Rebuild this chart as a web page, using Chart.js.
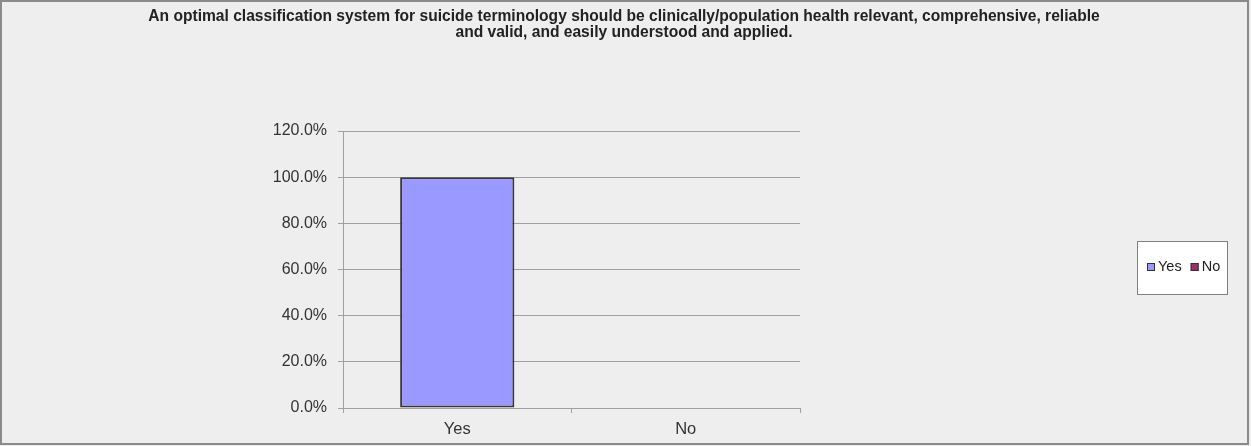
<!DOCTYPE html>
<html>
<head>
<meta charset="utf-8">
<script src="https://cdn.jsdelivr.net/npm/chart.js@4/dist/chart.umd.min.js"></script>
<style>
  html, body { margin: 0; padding: 0; background: #eeeeee; }
  #wrap { width: 1251px; height: 446px; position: relative; }
</style>
</head>
<body>
<div id="wrap"><canvas id="answerChart"></canvas></div>
<script>
// survey answers
const answerLabels = ['Yes', 'No'];
const answerShare = [100, 0];
const answerColors = ['#9999ff', '#993366'];
const yTicks = [0, 20, 40, 60, 80, 100, 120];
const chartTitle = [
    'An optimal classification system for suicide terminology should be clinically/population health relevant, comprehensive, reliable',
    'and valid, and easily understood and applied.'
];

const fontFamily = '"Liberation Sans", Arial, sans-serif';

// grey panel with a thin frame
const panelBg = {
    id: 'panelBg',
    beforeDraw(chart) {
        const c = chart.ctx;
        c.save();
        c.fillStyle = '#eeeeee';
        c.fillRect(0, 0, chart.width, chart.height);
        c.strokeStyle = '#8a8a8a';
        c.lineWidth = 2;
        c.strokeRect(1, 1, chart.width - 4, chart.height - 3);
        c.restore();
    }
};

// two-line heading centred on the whole panel
const panelTitle = {
    id: 'panelTitle',
    afterDraw(chart) {
        const c = chart.ctx;
        c.save();
        c.font = 'bold 15.6px ' + fontFamily;
        c.fillStyle = '#222222';
        c.textAlign = 'center';
        c.textBaseline = 'middle';
        chartTitle.forEach((line, i) => c.fillText(line, 624, 17 + i * 16));
        c.restore();
    }
};

// boxed legend at the right, one entry per category
const boxLegend = {
    id: 'boxLegend',
    afterDraw(chart) {
        const c = chart.ctx;
        const ds = chart.data.datasets[0];
        c.save();
        c.fillStyle = '#ffffff';
        c.fillRect(1137, 241, 90, 53);
        c.strokeStyle = '#808080';
        c.lineWidth = 1;
        c.strokeRect(1137.5, 241.5, 90, 53);
        c.font = '14.5px ' + fontFamily;
        c.textBaseline = 'middle';
        let x = 1147;
        const y = 267;
        chart.data.labels.forEach((lbl, i) => {
            c.fillStyle = ds.backgroundColor[i];
            c.fillRect(x, y - 4, 8, 8);
            c.strokeStyle = '#333333';
            c.strokeRect(x + 0.5, y - 3.5, 7, 7);
            c.fillStyle = '#222222';
            c.fillText(lbl, x + 11, y);
            x += 11 + c.measureText(lbl).width + 9;
        });
        c.restore();
    }
};

new Chart(document.getElementById('answerChart'), {
    type: 'bar',
    data: {
        labels: answerLabels,
        datasets: [{
            data: answerShare,
            backgroundColor: answerColors,
            borderColor: '#383838',
            borderWidth: 2,
            borderSkipped: false,
            barPercentage: 0.5,
            categoryPercentage: 1
        }]
    },
    options: {
        responsive: true,
        maintainAspectRatio: false,
        animation: false,
        layout: { padding: { left: 0, right: 451, top: 131, bottom: 8 } },
        plugins: {
            legend: { display: false },
            tooltip: { enabled: false },
            title: { display: false }
        },
        scales: {
            x: {
                offset: true,
                grid: { offset: true, drawOnChartArea: false, color: '#a0a0a0', tickLength: 5 },
                border: { color: '#a0a0a0', width: 1 },
                ticks: { color: '#333333', padding: 7, font: { family: fontFamily, size: 16.5 } },
                afterFit(scale) { scale.height = 30; }
            },
            y: {
                min: 0,
                max: 120,
                afterBuildTicks(scale) { scale.ticks = yTicks.map(v => ({ value: v })); },
                grid: { color: '#a0a0a0', tickLength: 5 },
                border: { color: '#a0a0a0', width: 1 },
                ticks: {
                    color: '#333333',
                    padding: 11,
                    font: { family: fontFamily, size: 16 },
                    callback: v => v.toFixed(1) + '%'
                },
                afterFit(scale) { scale.width = 343; }
            }
        }
    },
    plugins: [panelBg, panelTitle, boxLegend]
});
</script>
</body>
</html>
